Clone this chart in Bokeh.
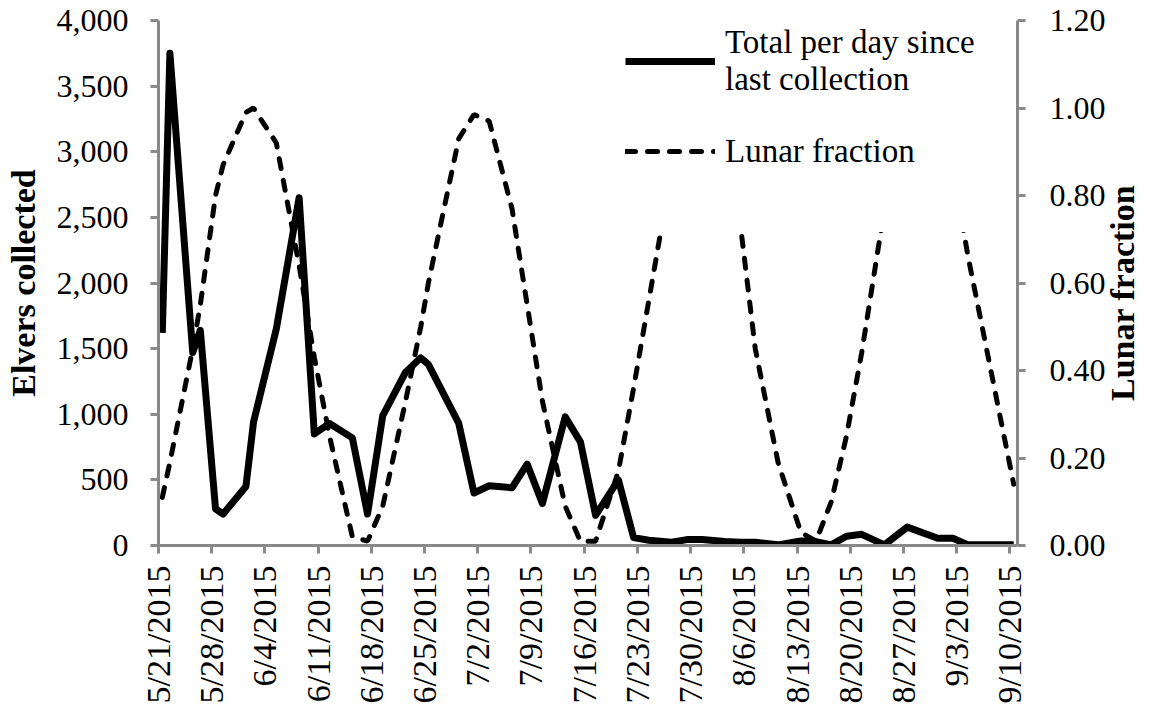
import math
import pandas as pd
from bokeh.plotting import figure
from bokeh.models import (ColumnDataSource, Range1d, LinearAxis, FixedTicker,
                          NumeralTickFormatter, CustomJSTickFormatter, Legend, LegendItem)
from bokeh.embed import file_html
from bokeh.resources import INLINE

# ---------------- data ----------------
dates = ["2015-05-21", "2015-05-22", "2015-05-25", "2015-05-26", "2015-05-28", "2015-05-29",
         "2015-06-01", "2015-06-02", "2015-06-05", "2015-06-08", "2015-06-10", "2015-06-12",
         "2015-06-15", "2015-06-17", "2015-06-19", "2015-06-22", "2015-06-24", "2015-06-25",
         "2015-06-29", "2015-07-01", "2015-07-03", "2015-07-06", "2015-07-08", "2015-07-10",
         "2015-07-13", "2015-07-15", "2015-07-17", "2015-07-20", "2015-07-22", "2015-07-24",
         "2015-07-27", "2015-07-29", "2015-07-31", "2015-08-03", "2015-08-05", "2015-08-07",
         "2015-08-10", "2015-08-13", "2015-08-15", "2015-08-17", "2015-08-19", "2015-08-21",
         "2015-08-24", "2015-08-27", "2015-08-31", "2015-09-02", "2015-09-04", "2015-09-10"]

elvers = [1620, 3750, 1470, 1640, 280, 240,
          450, 940, 1650, 2650, 850, 930,
          820, 240, 990, 1320, 1430, 1380,
          930, 400, 455, 440, 620, 320,
          980, 790, 230, 500, 60, 40,
          25, 45, 45, 30, 25, 25,
          5, 35, 30, 5, 70, 85,
          5, 140, 55, 55, 5, 5]

lunar = [0.11, 0.19, 0.45, 0.55, 0.80, 0.87,
         0.99, 1.00, 0.92, 0.64, 0.43, 0.25,
         0.02, 0.01, 0.09, 0.33, 0.50, 0.60,
         0.93, 0.985, 0.97, 0.77, 0.55, 0.33,
         0.09, 0.01, 0.01, 0.17, 0.36, 0.56,
         0.86, 0.97, 1.00, 0.90, 0.74, 0.45,
         0.19, 0.03, 0.01, 0.10, 0.25, 0.44,
         0.77, 0.97, 0.96, 0.86, 0.66, 0.14]

tick_dates = ["2015-05-21", "2015-05-28", "2015-06-04", "2015-06-11", "2015-06-18",
              "2015-06-25", "2015-07-02", "2015-07-09", "2015-07-16", "2015-07-23",
              "2015-07-30", "2015-08-06", "2015-08-13", "2015-08-20", "2015-08-27",
              "2015-09-03", "2015-09-10"]
left_ticks = [0, 500, 1000, 1500, 2000, 2500, 3000, 3500, 4000]
right_ticks = [0.0, 0.2, 0.4, 0.6, 0.8, 1.0, 1.2]

# ------------- figure -------------
FONT = "Liberation Serif"
GRAY = "#898989"

# Excel date axis: each day is a slot, the point sits in the middle of its slot
x = pd.to_datetime(dates) + pd.Timedelta(hours=12)
src = ColumnDataSource(dict(x=x, elvers=elvers, lunar=lunar))

p = figure(width=1162, height=719, x_axis_type="datetime",
           x_range=Range1d(pd.Timestamp("2015-05-21"), pd.Timestamp("2015-09-11")),
           y_range=Range1d(0, 4000),
           output_backend="svg", toolbar_location=None,
           min_border_left=158, min_border_right=142,
           min_border_top=20, min_border_bottom=174)
p.background_fill_color = "white"
p.border_fill_color = "white"
p.outline_line_color = None
p.xgrid.visible = False
p.ygrid.visible = False

p.extra_y_ranges = {"lunar": Range1d(0, 1.2)}

r1 = p.line("x", "elvers", source=src, line_color="black", line_width=7, line_join="round")
r2 = p.line("x", "lunar", source=src, y_range_name="lunar", line_color="black",
            line_width=5, line_dash="10 12", line_cap="round")

def style_axis(ax, tick_size="32px"):
    ax.axis_line_color = GRAY
    ax.axis_line_width = 3
    ax.major_tick_line_color = GRAY
    ax.major_tick_line_width = 3
    ax.major_tick_out = 8
    ax.major_tick_in = 0
    ax.minor_tick_line_color = None
    ax.major_label_text_font = FONT
    ax.major_label_text_font_size = tick_size
    ax.major_label_text_color = "black"
    ax.axis_label_text_font = FONT
    ax.axis_label_text_font_size = "34px"
    ax.axis_label_text_font_style = "bold"
    ax.axis_label_text_color = "black"

# x axis
xa = p.xaxis[0]
style_axis(xa, "34px")
xa.ticker = FixedTicker(ticks=[pd.Timestamp(d).value // 10**6 for d in tick_dates])
xa.formatter = CustomJSTickFormatter(code="""
    const d = new Date(tick);
    return (d.getUTCMonth() + 1) + '/' + d.getUTCDate() + '/' + d.getUTCFullYear();
""")
xa.major_label_orientation = math.pi / 2
xa.major_label_standoff = 12

# left axis
ya = p.yaxis[0]
style_axis(ya)
ya.ticker = FixedTicker(ticks=left_ticks)
ya.formatter = NumeralTickFormatter(format="0,0")
ya.axis_label = "Elvers collected"
ya.major_label_standoff = 22
ya.axis_label_standoff = 12

# right axis (title reads bottom-to-top, like the left one; it starts at the
# bottom of the axis, so non-breaking spaces lift it to the middle)
ra = LinearAxis(y_range_name="lunar")
style_axis(ra)
ra.ticker = FixedTicker(ticks=right_ticks)
ra.formatter = NumeralTickFormatter(format="0.00")
ra.major_label_standoff = 24
ra.axis_label = "\u00a0" * 17 + "Lunar fraction"
ra.axis_label_standoff = 14
ra.axis_label_orientation = math.pi / 2
ra.axis_label_align = "start"
p.add_layout(ra, "right")

legend = Legend(items=[LegendItem(label="Total per day since\nlast collection", renderers=[r1]),
                       LegendItem(label="Lunar fraction", renderers=[r2])],
                location=(431, 313))
legend.background_fill_color = "white"
legend.background_fill_alpha = 1.0
legend.border_line_alpha = 0
legend.label_text_font = FONT
legend.label_text_font_size = "33px"
legend.label_text_color = "black"
legend.glyph_width = 90
legend.glyph_height = 36
legend.label_height = 90
legend.label_standoff = 10
legend.padding = 36
legend.spacing = 0
p.add_layout(legend)

open("out.html", "w").write(file_html(p, INLINE))
